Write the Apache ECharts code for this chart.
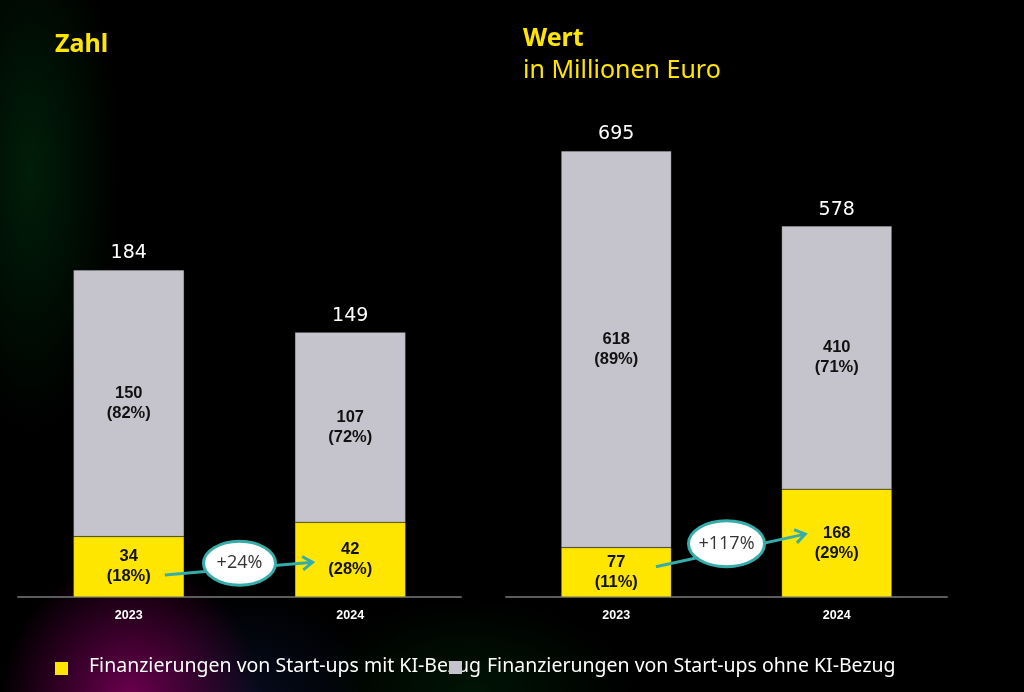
<!DOCTYPE html>
<html><head><meta charset="utf-8">
<script src="https://cdn.jsdelivr.net/npm/echarts@6/dist/echarts.min.js"></script>
<style>
html,body{margin:0;padding:0;width:1024px;height:692px;overflow:hidden;
background:
 radial-gradient(ellipse 130px 140px at 130px 700px, rgba(115,0,85,0.95), rgba(115,0,85,0) 100%),
 radial-gradient(ellipse 120px 110px at 250px 700px, rgba(10,20,50,0.6), rgba(10,20,50,0) 100%),
 radial-gradient(ellipse 90px 260px at 30px 170px, rgba(0,55,15,0.55), rgba(0,55,15,0) 100%),
 radial-gradient(ellipse 160px 90px at 470px 690px, rgba(0,45,10,0.45), rgba(0,45,10,0) 100%),
 #000;}
#c{width:1024px;height:692px;}
</style></head>
<body><div id="c"></div>
<script>
// ---- data ----
const years = ['2023', '2024'];
const countWithAI = [34, 42];
const countWithoutAI = [150, 107];
const countWithAIPct = ['18%', '28%'];
const countWithoutAIPct = ['82%', '72%'];
const countTotal = [184, 149];
const valueWithAI = [77, 168];
const valueWithoutAI = [618, 410];
const valueWithAIPct = ['11%', '29%'];
const valueWithoutAIPct = ['89%', '71%'];
const valueTotal = [695, 578];
const growthLabels = ['+24%', '+117%'];
const titles = ['Zahl', 'Wert', 'in Millionen Euro'];
const legendNames = ['Finanzierungen von Start-ups mit KI-Bezug', 'Finanzierungen von Start-ups ohne KI-Bezug'];

const YELLOW = '#FFE600', GRAY = '#C5C4CC', TEAL = '#35ADA9';
const chart = echarts.init(document.getElementById('c'));

function inner(vals, pcts) {
  return {
    show: true, position: 'inside', color: '#111', fontFamily: 'Liberation Sans',
    fontWeight: 'bold', fontSize: 16.5, lineHeight: 20,
    formatter: p => vals[p.dataIndex] + '\n(' + pcts[p.dataIndex] + ')'
  };
}
function xAx(grid) {
  return { type: 'category', gridIndex: grid, data: years,
    axisLine: { lineStyle: { color: '#5c5c5c', width: 2 } }, axisTick: { show: false },
    axisLabel: { color: '#fff', fontWeight: 'bold', fontSize: 12.5, fontFamily: 'Liberation Sans', margin: 12 } };
}
function yAx(grid, max) {
  return { type: 'value', gridIndex: grid, min: 0, max: max, show: false, splitLine: { show: false } };
}
function barSeries(name, data, xi, color, label, stack) {
  return { name, type: 'bar', stack, xAxisIndex: xi, yAxisIndex: xi, data,
    barWidth: '50%', itemStyle: { color, borderColor: 'rgba(60,60,60,0.5)', borderWidth: 0.5 }, label };
}
function totalLabel(totals) {
  return { show: true, position: 'top', distance: 7, color: '#fff', fontSize: 19,
    fontFamily: 'DejaVu Sans', formatter: p => String(totals[p.dataIndex]) };
}

chart.setOption({
  backgroundColor: 'transparent',
  animation: false,
  grid: [
    { left: 18, width: 443, top: 241.6, bottom: 95 },
    { left: 506, width: 441, top: 83.6, bottom: 95 }
  ],
  xAxis: [xAx(0), xAx(1)],
  yAxis: [yAx(0, 200), yAx(1, 800)],
  series: [
    barSeries(legendNames[0], countWithAI, 0, YELLOW, inner(countWithAI, countWithAIPct), 'a'),
    barSeries(legendNames[1], countWithoutAI, 0, GRAY, inner(countWithoutAI, countWithoutAIPct), 'a'),
    barSeries(legendNames[0] + ' ', valueWithAI, 1, YELLOW, inner(valueWithAI, valueWithAIPct), 'b'),
    barSeries(legendNames[1] + ' ', valueWithoutAI, 1, GRAY, inner(valueWithoutAI, valueWithoutAIPct), 'b'),
    { type: 'bar', stack: 'a', xAxisIndex: 0, yAxisIndex: 0, data: [0, 0], barWidth: '50%', itemStyle: { color: 'transparent' }, label: totalLabel(countTotal), silent: true },
    { type: 'bar', stack: 'b', xAxisIndex: 1, yAxisIndex: 1, data: [0, 0], barWidth: '50%', itemStyle: { color: 'transparent' }, label: totalLabel(valueTotal), silent: true }
  ]
});

function px(gi, cat, val) { return chart.convertToPixel({ xAxisIndex: gi, yAxisIndex: gi }, [cat, val]); }
function arrowGroup(gi, tStart, vStart, tEnd, vEnd, vMid, text, rx, ry) {
  const x0 = px(gi, 0, 0)[0], x1 = px(gi, 1, 0)[0];
  const sx = x0 + tStart * (x1 - x0), ex = x0 + tEnd * (x1 - x0);
  const sy = px(gi, 0, vStart)[1], ey = px(gi, 1, vEnd)[1];
  const cx = (x0 + x1) / 2, cy = px(gi, 0, vMid)[1];
  const ang = Math.atan2(ey - sy, ex - sx);
  const h = 12, w = 0.6;
  const p1 = [ex - h * Math.cos(ang - w), ey - h * Math.sin(ang - w)];
  const p2 = [ex - h * Math.cos(ang + w), ey - h * Math.sin(ang + w)];
  return [
    { type: 'line', shape: { x1: sx, y1: sy, x2: ex, y2: ey }, style: { stroke: TEAL, lineWidth: 3 }, z: 10 },
    { type: 'polyline', shape: { points: [p1, [ex, ey], p2] }, style: { stroke: TEAL, lineWidth: 3, fill: null }, z: 10 },
    { type: 'ellipse', shape: { cx, cy, rx, ry }, style: { fill: '#fff', stroke: TEAL, lineWidth: 3 }, z: 11 },
    { type: 'text', x: cx, y: cy, style: { text, fill: '#333', font: '18px "Open Sans", sans-serif', align: 'center', verticalAlign: 'middle' }, z: 12 }
  ];
}
const g = [].concat(
  arrowGroup(0, 0.163, 12.4, 0.83, 19.5, 19, growthLabels[0], 36, 22),
  arrowGroup(1, 0.18, 47, 0.857, 98, 83, growthLabels[1], 38, 23),
  [
    { type: 'text', left: 55, top: 32, style: { text: titles[0], fill: YELLOW, font: 'bold 25px "Noto Sans", sans-serif' } },
    { type: 'text', left: 523, top: 26, style: { text: titles[1], fill: YELLOW, font: 'bold 25px "Noto Sans", sans-serif' } },
    { type: 'text', left: 523, top: 58, style: { text: titles[2], fill: YELLOW, font: '25px "Noto Sans", sans-serif' } },
    { type: 'rect', shape: { x: 55, y: 662, width: 13, height: 13 }, style: { fill: YELLOW } },
    { type: 'text', left: 89, top: 656, style: { text: legendNames[0], fill: '#fff', font: '19.5px "Noto Sans", sans-serif' } },
    { type: 'rect', shape: { x: 449, y: 661, width: 13, height: 13 }, style: { fill: GRAY }, z: 0 },
    { type: 'text', left: 487, top: 656, style: { text: legendNames[1], fill: '#fff', font: '19.5px "Noto Sans", sans-serif' } }
  ]
);
chart.setOption({ graphic: g });
</script></body></html>
